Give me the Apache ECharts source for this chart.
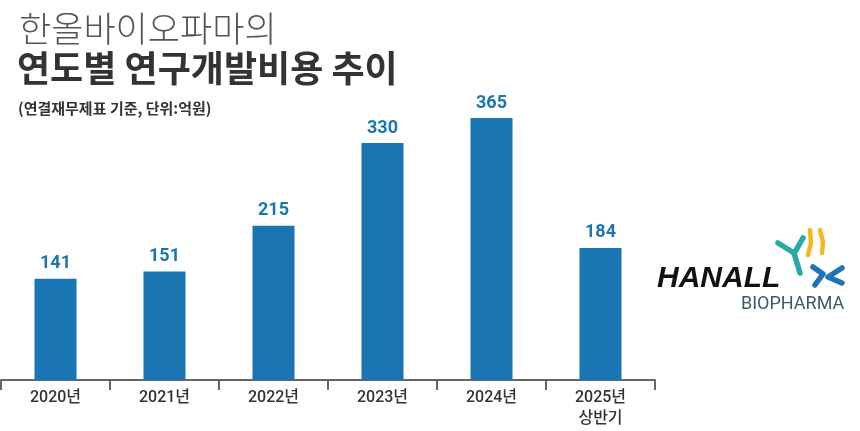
<!DOCTYPE html>
<html><head><meta charset="utf-8">
<script src="https://cdn.jsdelivr.net/npm/echarts@6/dist/echarts.min.js"></script>
<style>html,body{margin:0;padding:0;background:#fff}#c{width:860px;height:431px}</style>
</head><body><div id="c"></div>
<script>
const categories = ['2020년', '2021년', '2022년', '2023년', '2024년', '2025년\n상반기'];
const rdCost = [141, 151, 215, 330, 365, 184];
const titleLine1 = '한올바이오파마의';
const titleLine2 = '연도별 연구개발비용 추이';
const subtitle = '(연결재무제표 기준, 단위:억원)';

const chart = echarts.init(document.getElementById('c'));
const KR = '"Noto Sans CJK KR", "Noto Sans", sans-serif';
const stroke = (c, w) => ({ stroke: c, lineWidth: w, fill: null, lineCap: 'round', lineJoin: 'round' });
chart.setOption({
  animation: false,
  title: [
    { text: titleLine1, left: 14, top: 6, textStyle: { fontFamily: KR, fontSize: 35, fontWeight: 300, color: '#555' } },
    { text: titleLine2, left: 12, top: 45, textStyle: { fontFamily: KR, fontSize: 36, fontWeight: 'bold', color: '#333' } },
    { text: subtitle, left: 13, top: 96, textStyle: { fontFamily: KR, fontSize: 15, fontWeight: 'bold', color: '#333' } }
  ],
  grid: { left: 1, right: 205, top: 118, bottom: 51 },
  xAxis: {
    type: 'category', data: categories,
    axisLine: { lineStyle: { color: '#666', width: 2 } },
    axisTick: { show: true, length: 10, lineStyle: { color: '#666', width: 2 } },
    axisLabel: { fontFamily: 'Roboto, ' + KR, fontSize: 16, fontWeight: 500, color: '#333', margin: 7, lineHeight: 21 }
  },
  yAxis: { type: 'value', min: 0, max: 365, show: false, splitLine: { show: false } },
  series: [{
    type: 'bar', data: rdCost, barWidth: 42,
    itemStyle: { color: '#1a76b2' },
    label: { show: true, position: 'top', distance: 6, fontFamily: 'Roboto, sans-serif', fontSize: 18, fontWeight: 'bold', color: '#1a76b2' }
  }],
  graphic: [
    { type: 'text', left: 657, top: 264, style: { text: 'HANALL', font: 'italic 900 30px "Liberation Sans", Arial, sans-serif', fill: '#111' } },
    { type: 'text', left: 741, top: 295, style: { text: 'BIOPHARMA', font: '18px Roboto, "Liberation Sans", sans-serif', fill: '#3e5a68' } },
    { type: 'polyline', shape: { points: [[778, 243], [794, 253], [800, 273]] }, style: stroke('#2aa8a8', 5.5) },
    { type: 'line', shape: { x1: 803, y1: 238, x2: 795, y2: 252 }, style: stroke('#2aa8a8', 5.5) },
    { type: 'polyline', shape: { points: [[810, 230], [811, 243], [808, 255]] }, style: stroke('#f3b81a', 4.5) },
    { type: 'polyline', shape: { points: [[820, 230], [823, 242], [822, 253]] }, style: stroke('#f3b81a', 4.5) },
    { type: 'polyline', shape: { points: [[813, 267], [823, 274], [815, 285]] }, style: stroke('#1f74b8', 5.5) },
    { type: 'polyline', shape: { points: [[842, 268], [828, 277], [842, 283]] }, style: stroke('#1f74b8', 5.5) }
  ]
});
</script></body></html>
